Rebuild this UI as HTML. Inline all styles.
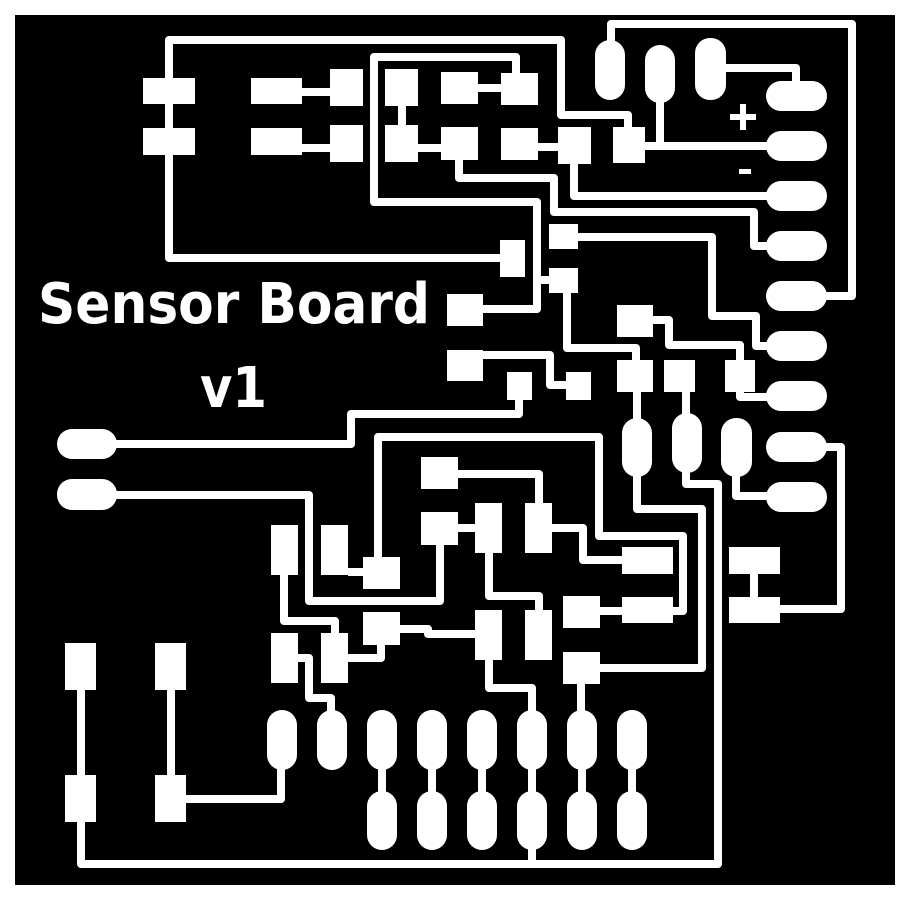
<!DOCTYPE html>
<html><head><meta charset="utf-8"><style>html,body{margin:0;padding:0;background:#fff}svg{display:block}</style></head>
<body>
<svg width="910" height="900" viewBox="0 0 910 900" xmlns="http://www.w3.org/2000/svg">
<rect x="0" y="0" width="910" height="900" fill="#fff"/>
<rect x="15" y="15" width="880" height="870" fill="#000"/>
<g fill="none" stroke="#fff" stroke-width="8" stroke-linejoin="round">
<polyline points="500,258 169,258 169,40 561,40 561,115 628,115 628,140"/>
<polyline points="302,92 330,92"/><polyline points="302,148 330,148"/>
<polyline points="516,90 516,57 374,57 374,202 537,202 537,309 483,309"/>
<polyline points="402,90 402,145"/><polyline points="418,148 441,148"/>
<polyline points="478,88 501,88"/><polyline points="538,147 558,147"/>
<polyline points="459,160 459,178 554,178 554,212 754,212 754,246 790,246"/>
<polyline points="574,160 574,196 790,196"/>
<polyline points="645,146 790,146"/><polyline points="660,146 660,95"/>
<polyline points="611,45 611,24 852,24 852,296 800,296"/>
<polyline points="720,68 796,68 796,90"/>
<polyline points="578,237 712,237 712,316 756,316 756,346 790,346"/>
<polyline points="537,280 549,280"/>
<polyline points="567,293 567,348 636,348 636,360"/>
<polyline points="637,392 637,420"/>
<polyline points="637,470 637,509 702,509 702,668 600,668"/>
<polyline points="653,320 669,320 669,345 740,345 740,360"/>
<polyline points="740,388 740,397 790,397"/>
<polyline points="686,392 686,415"/>
<polyline points="686,470 686,484 718,484 718,864 81,864 81,822"/>
<polyline points="532,845 532,864"/>
<polyline points="81,690 81,775"/><polyline points="171,690 171,775"/>
<polyline points="186,799 281,799 281,765"/>
<polyline points="483,355 550,355 550,385 566,385"/>
<polyline points="519,400 519,414 351,414 351,444 110,444"/>
<polyline points="110,495 309,495 309,601 440,601 440,545"/>
<polyline points="458,474 539,474 539,503"/>
<polyline points="458,528 475,528"/>
<polyline points="489,553 489,596 539,596 539,610"/>
<polyline points="552,528 583,528 583,560 622,560"/>
<polyline points="378,557 378,437 599,437 599,536 683,536 683,611 673,611"/>
<polyline points="600,611 622,611"/>
<polyline points="348,572 363,572"/>
<polyline points="284,575 284,621 335,621 335,633"/>
<polyline points="298,658 309,658 309,698 331,698 331,715"/>
<polyline points="348,658 381,658 381,645"/>
<polyline points="400,629 428,629 428,634 475,634"/>
<polyline points="489,660 489,688 532,688 532,715"/>
<polyline points="581,684 581,715"/>
<polyline points="382,765 382,795"/><polyline points="432,765 432,795"/><polyline points="482,765 482,795"/>
<polyline points="532,765 532,795"/><polyline points="582,765 582,795"/><polyline points="632,765 632,795"/>
<polyline points="736,470 736,496 790,496"/>
<polyline points="820,447 841,447 841,609 780,609"/>
<polyline points="754,574 754,597"/>
</g>
<g fill="#fff">
<rect x="143" y="78" width="52" height="26"/><rect x="143" y="128" width="52" height="27"/>
<rect x="251" y="78" width="51" height="26"/><rect x="330" y="69" width="33" height="37"/>
<rect x="251" y="128" width="51" height="27"/><rect x="330" y="125" width="33" height="37"/>
<rect x="385" y="69" width="33" height="37"/><rect x="441" y="72" width="37" height="32"/>
<rect x="501" y="73" width="37" height="32"/><rect x="385" y="125" width="33" height="37"/>
<rect x="441" y="127" width="37" height="33"/><rect x="501" y="128" width="37" height="32"/>
<rect x="558" y="127" width="33" height="37"/><rect x="613" y="127" width="32" height="36"/>
<rect x="500" y="240" width="25" height="37"/><rect x="549" y="224" width="29" height="25"/>
<rect x="549" y="268" width="29" height="25"/><rect x="447" y="294" width="36" height="32"/>
<rect x="447" y="350" width="36" height="31"/><rect x="507" y="372" width="25" height="28"/>
<rect x="566" y="372" width="25" height="28"/><rect x="617" y="305" width="36" height="32"/>
<rect x="617" y="360" width="36" height="32"/><rect x="664" y="360" width="31" height="32"/>
<rect x="725" y="360" width="30" height="32"/><rect x="421" y="457" width="37" height="32"/>
<rect x="421" y="512" width="37" height="33"/><rect x="475" y="503" width="27" height="50"/>
<rect x="525" y="503" width="27" height="50"/><rect x="622" y="547" width="51" height="27"/>
<rect x="563" y="596" width="37" height="32"/><rect x="622" y="597" width="51" height="26"/>
<rect x="363" y="557" width="37" height="32"/><rect x="271" y="525" width="27" height="50"/>
<rect x="321" y="525" width="27" height="50"/><rect x="363" y="612" width="37" height="33"/>
<rect x="271" y="633" width="27" height="50"/><rect x="321" y="633" width="27" height="50"/>
<rect x="475" y="610" width="27" height="50"/><rect x="525" y="610" width="27" height="50"/>
<rect x="563" y="652" width="37" height="32"/><rect x="729" y="547" width="51" height="27"/>
<rect x="729" y="597" width="51" height="26"/>
<rect x="65" y="643" width="31" height="47"/><rect x="65" y="775" width="31" height="47"/>
<rect x="155" y="643" width="31" height="47"/><rect x="155" y="775" width="31" height="47"/>
<!-- right pills -->
<rect x="766" y="81" width="61" height="30" rx="15"/><rect x="766" y="131" width="61" height="30" rx="15"/>
<rect x="766" y="181" width="61" height="30" rx="15"/><rect x="766" y="231" width="61" height="30" rx="15"/>
<rect x="766" y="281" width="61" height="30" rx="15"/><rect x="766" y="331" width="61" height="30" rx="15"/>
<rect x="766" y="381" width="61" height="30" rx="15"/><rect x="766" y="432" width="61" height="30" rx="15"/>
<rect x="766" y="482" width="61" height="30" rx="15"/>
<!-- top pills -->
<rect x="595" y="40" width="30" height="60" rx="15"/><rect x="645" y="45" width="30" height="58" rx="15"/>
<rect x="695" y="38" width="31" height="62" rx="15"/>
<!-- left pills -->
<rect x="57" y="429" width="60" height="30" rx="15"/><rect x="57" y="479" width="60" height="31" rx="15"/>
<!-- mid pills -->
<rect x="622" y="418" width="30" height="59" rx="15"/><rect x="672" y="413" width="30" height="60" rx="15"/>
<rect x="721" y="418" width="31" height="59" rx="15"/>
<!-- bottom pills -->
<rect x="267" y="710" width="30" height="60" rx="15"/><rect x="317" y="710" width="30" height="60" rx="15"/>
<rect x="367" y="710" width="30" height="60" rx="15"/><rect x="417" y="710" width="30" height="60" rx="15"/>
<rect x="467" y="710" width="30" height="60" rx="15"/><rect x="517" y="710" width="30" height="60" rx="15"/>
<rect x="567" y="710" width="30" height="60" rx="15"/><rect x="617" y="710" width="30" height="60" rx="15"/>
<rect x="367" y="791" width="30" height="59" rx="15"/><rect x="417" y="791" width="30" height="59" rx="15"/>
<rect x="467" y="791" width="30" height="59" rx="15"/><rect x="517" y="791" width="30" height="59" rx="15"/>
<rect x="567" y="791" width="30" height="59" rx="15"/><rect x="617" y="791" width="30" height="59" rx="15"/>
<!-- + and - -->
<rect x="730" y="114" width="26" height="6"/><rect x="740" y="104" width="6" height="26"/>
<rect x="739" y="169" width="12" height="5"/>
<text x="38" y="323" font-family="DejaVu Sans, sans-serif" font-weight="bold" font-size="56" textLength="392" lengthAdjust="spacingAndGlyphs">Sensor Board</text>
<text x="200" y="407" font-family="DejaVu Sans, sans-serif" font-weight="bold" font-size="56" textLength="67" lengthAdjust="spacingAndGlyphs">v1</text>
</g>
</svg>
</body></html>
